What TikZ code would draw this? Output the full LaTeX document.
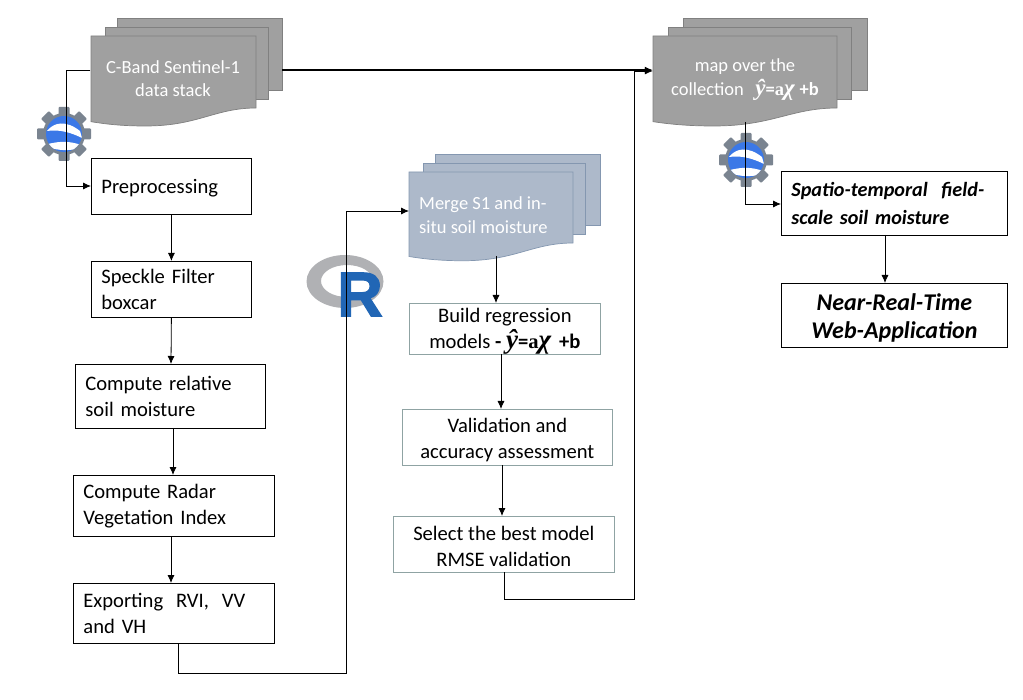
\documentclass[tikz,border=0pt]{standalone}
\usepackage{fontspec}
\setmainfont{Carlito}
\usetikzlibrary{arrows.meta}
\newfontfamily\rfont[BoldFeatures={FakeBold=2}]{Liberation Sans}
\newfontfamily\eqfont{Liberation Serif}
\definecolor{docgray}{HTML}{A0A0A0}
\definecolor{docedge}{HTML}{808080}
\definecolor{docblue}{HTML}{ADB9CA}
\definecolor{blueedge}{HTML}{8497B0}
\definecolor{boxline}{HTML}{8FA3A3}
\definecolor{geargray}{HTML}{7A8490}
\definecolor{eeblue}{HTML}{3B78E7}
\definecolor{rblue}{HTML}{2166B5}
\definecolor{rgray}{HTML}{B0B1B4}
\newcommand{\down}[1]{\rule{0pt}{#1pt}}
\newcommand{\fitmodel}[2]{{\bfseries{\eqfont\itshape\fontsize{#1}{#1}\selectfont ŷ}=}{\eqfont\bfseries a\itshape\fontsize{#1}{#1}\selectfont χ}\hspace{#2pt}{\bfseries +b}}
\tikzset{
  x=1pt,y=-1pt,
  every node/.style={font=\fontsize{20.6}{26}\selectfont,align=center,inner sep=0pt},
  flowbox/.style={draw=black,line width=0.8pt,fill=white},
  softbox/.style={draw=boxline,line width=0.7pt,fill=white},
  link/.style={line width=0.8pt,-{Latex[length=8pt,width=7pt]}},
  heavylink/.style={line width=1.5pt,-{Latex[length=8pt,width=7pt]}},
  doctext/.style={text=white,font=\fontsize{18.5}{23.5}\selectfont}
}
\newcommand{\sheet}[6]{\draw[draw=#6,fill=#5,line width=0.7pt] (#1,#2) rectangle (#3,#4);}
\newcommand{\wavy}[6]{%
  \draw[draw=#6,fill=#5,line width=0.7pt] (#1,#2) -- (#3,#2) -- (#3,#4)
    .. controls ({#3-0.25*(#3-#1)},#4) and ({#1+0.65*(#3-#1)},{#4+0.25*(#4-#2)}) .. ({#1+0.33*(#3-#1)},{#4+0.25*(#4-#2)})
    .. controls ({#1+0.18*(#3-#1)},{#4+0.25*(#4-#2)}) and ({#1+0.08*(#3-#1)},{#4+0.22*(#4-#2)}) .. (#1,{#4+0.19*(#4-#2)}) -- cycle;}
\newcommand{\gearbadge}[2]{%
  \begin{scope}[shift={(#1,#2)}]
    \foreach \a in {0,45,...,315}{
      \fill[geargray,rotate=\a,rounded corners=1pt] (-5.5,-27) rectangle (5.5,-14);
    }
    \fill[geargray] (0,0) circle (21);
    \begin{scope}
      \clip (0,0) circle (18);
      \fill[eeblue] (-18,-18) rectangle (18,18);
      \fill[white] (-17,-3) .. controls (-10,-12) and (2,-14) .. (16,-3)
         -- (18,4) .. controls (8,-1) and (-4,-5) .. (-17,-3) -- cycle;
      \fill[white] (-16,10) .. controls (-4,7) and (6,7) .. (17,11)
         -- (12,15) .. controls (4,17) and (-8,16) .. (-12,14) -- cycle;
    \end{scope}
  \end{scope}}
\begin{document}
\begin{tikzpicture}
\useasboundingbox (0,0) rectangle (1023,700);
\fill[white] (0,0) rectangle (1023,700);

% R logo
\fill[rgray,even odd rule] (345,281.5) ellipse (38.5 and 26.5)
  (347,281) ellipse (26 and 16);
\node[font=\rfont\bfseries\fontsize{63}{63}\selectfont,text=rblue,anchor=center] (rlogo) at (360,294.5) {R};

% stacks
\sheet{117}{18}{282}{90}{docgray}{docedge}
\sheet{105}{27}{268}{99}{docgray}{docedge}
\wavy{91}{36}{256}{108}{docgray}{docedge}
\sheet{683}{18}{867}{90}{docgray}{docedge}
\sheet{668}{27}{851}{99}{docgray}{docedge}
\wavy{653}{36}{837}{108}{docgray}{docedge}
\sheet{435}{154}{600}{225}{docblue}{blueedge}
\sheet{423}{163}{585}{234}{docblue}{blueedge}
\wavy{409}{172}{573}{243}{docblue}{blueedge}

\node[doctext,minimum width=165pt,minimum height=84pt] (s1) at (173,78.5) {C-Band Sentinel-1\\data stack};
\node[doctext,minimum width=184pt,minimum height=86pt,font=\fontsize{18.5}{24}\selectfont] (map) at (745,80) {map over the\\collection \ \,\fitmodel{23}{5}};
\node[doctext,align=left,inner xsep=10pt,minimum height=86pt,anchor=west] (merge) at (409,215) {Merge S1 and in-\\situ soil moisture};

% flow boxes
\node[flowbox,anchor=north west,minimum width=160pt,minimum height=56pt] (pre) at (91,158) {\makebox[140pt][l]{\raisebox{-7pt}[0pt][0pt]{Preprocessing}}};
\node[flowbox,anchor=north west,minimum width=160pt,minimum height=56pt,align=left,text width=140pt] (spk) at (91,261) {Speckle Filter\\boxcar};
\node[flowbox,anchor=north west,minimum width=190pt,minimum height=64pt,align=left,text width=170pt] (rel) at (75,364) {Compute relative\\soil moisture};
\node[flowbox,anchor=north west,minimum width=201pt,minimum height=61pt,align=left,text width=181pt] (rvi) at (73,475) {Compute Radar\\Vegetation Index};
\node[flowbox,anchor=north west,minimum width=201pt,minimum height=60pt,align=left,text width=181pt] (exp) at (73,583) {Exporting\hspace{6pt} RVI,\hspace{6pt} VV\\and VH};
\node[softbox,anchor=north west,minimum width=191pt,minimum height=51pt] (reg) at (409,303) {\down{19.5}Build regression\\models \textbf{-} \fitmodel{27}{8}};
\node[softbox,anchor=north west,minimum width=210pt,minimum height=56pt] (val) at (402,409) {\down{19.5}Validation and\\accuracy assessment};
\node[softbox,anchor=north west,minimum width=221pt,minimum height=56pt] (sel) at (393,516) {\down{17.5}Select the best model\\RMSE validation};
\node[flowbox,anchor=north west,minimum width=226pt,minimum height=64pt,align=left,text width=206pt,font=\fontsize{20.2}{28}\selectfont\bfseries\itshape] (spa) at (781,171) {Spatio-temporal\ \ field-\\scale soil moisture};
\node[flowbox,anchor=north west,minimum width=226pt,minimum height=64pt,font=\fontsize{24}{28}\selectfont\bfseries\itshape] (web) at (781,283) {\down{22}Near-Real-Time\\Web-Application};

% badges
\gearbadge{64}{134}
\gearbadge{746}{160}

% connectors
\coordinate (a1) at (66,70);
\coordinate (a2) at (66,186);
\draw[link] (a1 -| s1.west) -- (a1) -- (a2) -- (a2 -| pre.west);
\coordinate (a3) at (282,70);
\draw[heavylink] (a3) -- (a3 -| map.west);
\draw[link] (pre.south) -- (spk.north);
\draw[link] (spk.south) -- (171,364);
\draw[link] (173,428) -- (173,475);
\draw[link] (171,536) -- (171,583);
\coordinate (b1) at (178,643);
\coordinate (b2) at (178,673);
\coordinate (b3) at (346,673);
\coordinate (b4) at (346,211);
\draw[link] (b1) -- (b2) -- (b3) -- (b4) -- (b4 -| merge.west);
\draw[link] (496,256) -- (496,303);
\draw[link] (501,354) -- (501,409);
\draw[link] (502,465) -- (502,516);
\coordinate (c1) at (504,572);
\coordinate (c2) at (504,599);
\coordinate (c3) at (634,599);
\coordinate (c4) at (634,71);
\draw[link] (c1) -- (c2) -- (c3) -- (c4) -- (c4 -| map.west);
\coordinate (d1) at (745,122);
\coordinate (d2) at (745,204);
\draw[link] (d1) -- (d2) -- (d2 -| spa.west);
\draw[link] (885,235) -- (885,283);
\end{tikzpicture}
\end{document}
